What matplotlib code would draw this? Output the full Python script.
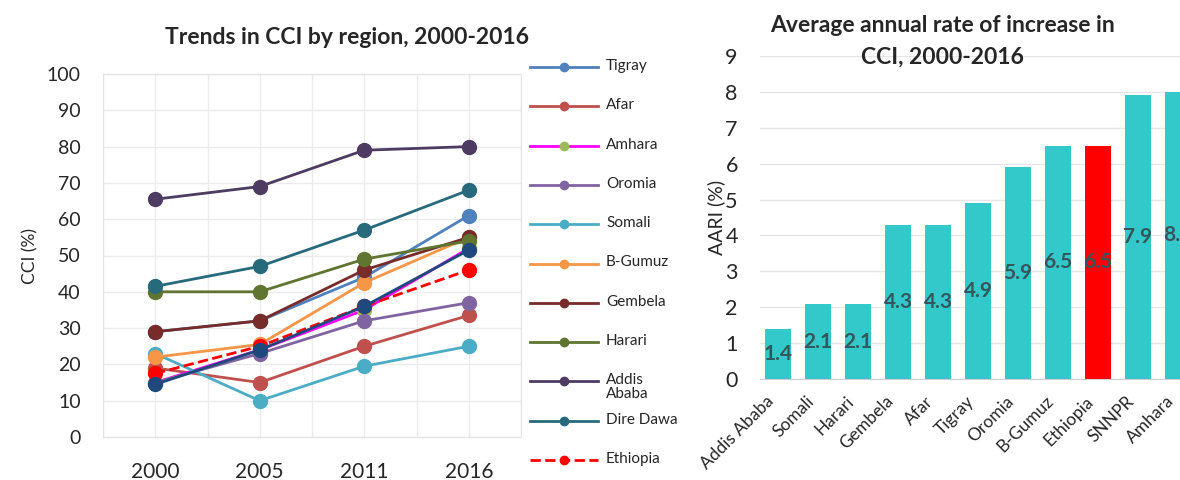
import numpy as np
import matplotlib.pyplot as plt
from matplotlib.transforms import ScaledTranslation

plt.rcParams['font.family'] = ['Lato', 'DejaVu Sans']

# CCI (%) by region
years = ['2000', '2005', '2011', '2016']
tigray = [29, 32, 44, 61]
afar = [19, 15, 25, 33.5]
amhara = [15, 24, 35, 52]
oromia = [15, 23, 32, 37]
somali = [23, 10, 19.5, 25]
bgumuz = [22, 25.5, 42.5, 55]
gembela = [29, 32, 46, 55]
harari = [40, 40, 49, 54]
addis = [65.5, 69, 79, 80]
dire_dawa = [41.5, 47, 57, 68]
snnpr = [14.5, 24, 36, 51.5]
ethiopia = [17.5, 25, 36, 46]

# AARI (%) 2000-2016
aari_regions = ['Addis Ababa', 'Somali', 'Harari', 'Gembela', 'Afar', 'Tigray',
                'Oromia', 'B-Gumuz', 'Ethiopia', 'SNNPR', 'Amhara']
aari = [1.4, 2.1, 2.1, 4.3, 4.3, 4.9, 5.9, 6.5, 6.5, 7.9, 8.0]

series = [
    ('Tigray', tigray, '#4f81bd', '#4f81bd', '-'),
    ('Afar', afar, '#c0504d', '#c0504d', '-'),
    ('Amhara', amhara, '#ff00ff', '#9bbb59', '-'),
    ('Oromia', oromia, '#8064a2', '#8064a2', '-'),
    ('Somali', somali, '#4bacc6', '#4bacc6', '-'),
    ('B-Gumuz', bgumuz, '#f79646', '#f79646', '-'),
    ('Gembela', gembela, '#772c2a', '#772c2a', '-'),
    ('Harari', harari, '#5f7530', '#5f7530', '-'),
    ('Addis\nAbaba', addis, '#4d3b62', '#4d3b62', '-'),
    ('Dire Dawa', dire_dawa, '#276a7c', '#276a7c', '-'),
    ('Ethiopia', ethiopia, '#ff0000', '#ff0000', '--'),
]

fig = plt.figure(figsize=(11.8, 4.8), dpi=100)
txt = '#262626'

# ---- left: line chart
ax = fig.add_axes([103/1180, 43/480, 418/1180, 363/480])
x = np.arange(len(years))
for name, vals, lc, mc, ls in series:
    ax.plot(x, vals, color=lc, ls=ls, lw=2, marker='o', ms=10,
            mfc=mc, mec=mc, zorder=3)
ax.plot(x, snnpr, color='#1f497d', lw=2, marker='o', ms=10, zorder=3)

ax.set_xlim(-0.5, 3.5)
ax.set_ylim(0, 100)
ax.set_xticks(x)
ax.set_xticklabels(years)
ax.set_xticks(np.arange(-0.5, 3.6, 0.5), minor=True)
ax.set_yticks(np.arange(0, 101, 10))
ax.grid(True, which='both', axis='x', color='#ececec', lw=1)
ax.grid(True, axis='y', color='#ececec', lw=1)
ax.set_axisbelow(True)
ax.tick_params(which='both', length=0)
ax.tick_params(axis='y', pad=16, labelsize=14, labelcolor=txt)
ax.tick_params(axis='x', pad=18, labelsize=15, labelcolor=txt)
for s in ax.spines.values():
    s.set_color('#e3e3e3')
ax.set_ylabel('CCI (%)', fontsize=12.5, color=txt, labelpad=6)
fig.text(347/1180, 1 - 37/480, 'Trends in CCI by region, 2000-2016',
         ha='center', va='center', fontsize=16.5, fontweight='bold', color=txt)

# legend drawn by hand so that rows stay evenly spaced
lax = fig.add_axes([0, 0, 1, 1], facecolor='none')
lax.set_xlim(0, 1180)
lax.set_ylim(480, 0)
lax.axis('off')
for i, (name, vals, lc, mc, ls) in enumerate(series):
    yy = 67 + i * 39.3
    lax.plot([530, 598], [yy, yy], color=lc, ls=ls, lw=2)
    lax.plot([564], [yy], marker='o', ms=6, color=mc)
    lax.text(606, yy - 8, name, va='top', ha='left', fontsize=11,
             color=txt, linespacing=0.95)

# ---- right: bar chart
bx = fig.add_axes([760/1180, 100.7/480, 436/1180, 323.6/480])
xb = np.arange(len(aari_regions))
colors = ['#ff0000' if r == 'Ethiopia' else '#33c9cb' for r in aari_regions]
bx.bar(xb, aari, width=0.66, color=colors, zorder=3)
for xi, v in zip(xb, aari):
    bx.text(xi, v / 2, f'{v:.1f}', ha='center', va='center', fontsize=15,
            fontweight='bold', color='#35565b', zorder=4)
bx.set_xlim(-0.456, 10.45)
bx.set_ylim(0, 9)
bx.set_yticks(range(0, 10))
bx.grid(True, axis='y', color='#e6e6e6', lw=1)
bx.set_axisbelow(True)
for s in ['top', 'right', 'left']:
    bx.spines[s].set_visible(False)
bx.spines['bottom'].set_color('#cfcfcf')
bx.tick_params(length=0)
bx.tick_params(axis='y', pad=16, labelsize=15.5, labelcolor=txt)
bx.set_xticks(xb)
bx.set_xticklabels(aari_regions, rotation=45, ha='right', va='center',
                   rotation_mode='anchor', fontsize=12.5, color=txt)
bx.tick_params(axis='x', pad=14)
shift = ScaledTranslation(-7/100, 0, fig.dpi_scale_trans)
for lbl in bx.get_xticklabels():
    lbl.set_transform(lbl.get_transform() + shift)
bx.set_ylabel('AARI (%)', fontsize=14, color=txt, labelpad=0)
fig.text(942/1180, 1 - 25/480, 'Average annual rate of increase in',
         ha='center', va='center', fontsize=16.5, fontweight='bold', color=txt)
fig.text(942/1180, 1 - 57/480, 'CCI, 2000-2016',
         ha='center', va='center', fontsize=16.5, fontweight='bold', color=txt)

fig.savefig('out.png', dpi=100)
